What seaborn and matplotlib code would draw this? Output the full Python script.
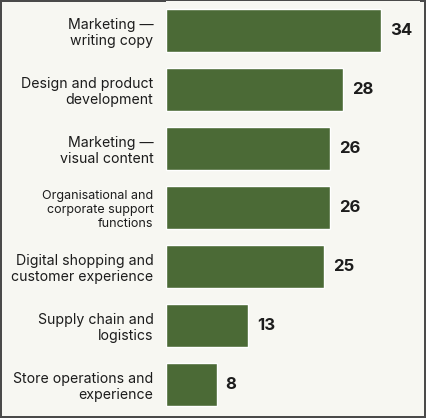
import matplotlib
matplotlib.use("Agg")
import matplotlib.pyplot as plt
import seaborn as sns
import pandas as pd

categories = [
    "Marketing —\nwriting copy",
    "Design and product\ndevelopment",
    "Marketing —\nvisual content",
    "Organisational and\ncorporate support\nfunctions",
    "Digital shopping and\ncustomer experience",
    "Supply chain and\nlogistics",
    "Store operations and\nexperience",
]
values = [34, 28, 26, 26, 25, 13, 8]

BAR = "#4b6a36"
BG = "#f7f7f2"
TXT = "#1c1c1c"


def main():
    sns.set_theme(style="white")
    plt.rcParams["font.family"] = ["Inter", "DejaVu Sans"]

    df = pd.DataFrame({"cat": categories, "val": values})

    fig = plt.figure(figsize=(4.26, 4.18), dpi=100)
    fig.patch.set_facecolor(BG)
    fig.patch.set_edgecolor("#4a4a4a")
    fig.patch.set_linewidth(1.5)

    ax = fig.add_axes([166 / 426, 4 / 418, 254 / 426, 413 / 418])
    ax.set_facecolor(BG)
    sns.barplot(data=df, x="val", y="cat", color=BAR, width=0.73,
                saturation=1, ax=ax)

    ax.set_xlim(0, 254 / 6.32)
    ax.set_ylim(6.5, -0.5)
    for s in ax.spines.values():
        s.set_visible(False)
    ax.set_xticks([])
    ax.set_xlabel("")
    ax.set_ylabel("")
    ax.tick_params(axis="y", length=0, pad=9)
    for i, lab in enumerate(ax.get_yticklabels()):
        lab.set_horizontalalignment("right")
        lab.set_multialignment("right")
        lab.set_color(TXT)
        lab.set_fontsize(9 if i == 3 else 10.2)
        lab.set_linespacing(1.2)

    for i, v in enumerate(values):
        ax.text(v + 1.4, i, str(v), va="center", ha="left",
                fontsize=12, fontweight="bold", color=TXT)

    fig.savefig("out.png", dpi=100, facecolor=BG, edgecolor="#4a4a4a")


if __name__ == "__main__":
    main()
